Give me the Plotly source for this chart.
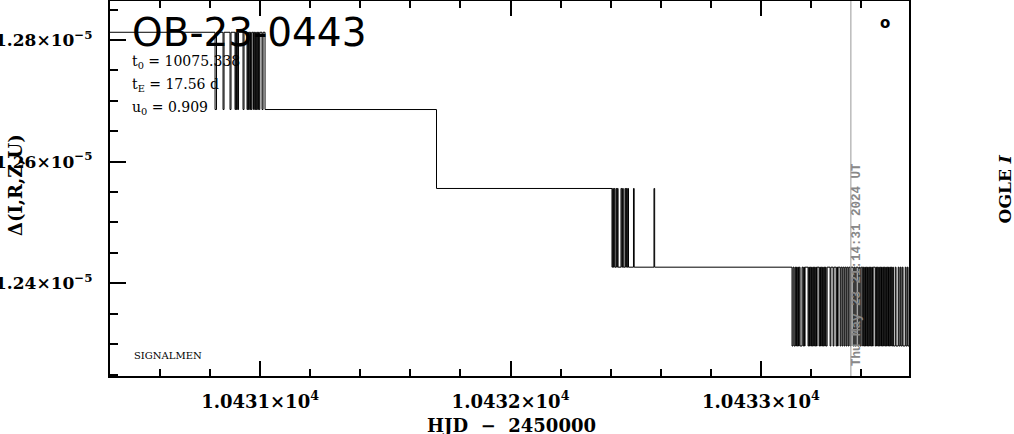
import plotly.graph_objects as go

# ---- data (HJD - 2450000, quantised model values) ----
levels = [1.28127e-5, 1.26857e-5, 1.25559e-5, 1.24265e-5, 1.22969e-5]
t_start = 10430.30
t_end = 10433.70

# times at which the plotted value flips between two adjacent levels
flips_ab = [10430.8204, 10430.8263, 10430.8523, 10430.8563, 10430.8802, 10430.8842,
            10430.9002, 10430.9030, 10430.9058, 10430.9086, 10430.9114, 10430.9142,
            10430.9321, 10430.9361, 10430.9481, 10430.9509, 10430.9537, 10430.9565,
            10430.9593, 10430.9621, 10430.9649, 10430.9681, 10430.9741, 10430.9768,
            10430.9796, 10430.9824, 10430.9852, 10430.9880, 10430.9908, 10430.9936,
            10430.9964, 10430.9992, 10431.0080, 10431.0120, 10431.0200]
flips_bc = [10431.7046]
flips_cd = [10432.4052, 10432.4080, 10432.4108, 10432.4136, 10432.4164, 10432.4212,
            10432.4240, 10432.4267, 10432.4295, 10432.4411, 10432.4443, 10432.4475,
            10432.4503, 10432.4571, 10432.4599, 10432.4627, 10432.4655, 10432.4683,
            10432.4711, 10432.4910, 10432.4938, 10432.5728, 10432.5756]
flips_de = [10433.124, 10433.128, 10433.132, 10433.136, 10433.1388, 10433.1416,
            10433.1444, 10433.1472, 10433.150, 10433.1528, 10433.156, 10433.164,
            10433.168, 10433.1708, 10433.1736, 10433.176, 10433.188, 10433.1908,
            10433.1936, 10433.1964, 10433.1992, 10433.202, 10433.2048, 10433.2076,
            10433.2104, 10433.2132, 10433.216, 10433.2188, 10433.2216, 10433.224,
            10433.232, 10433.2348, 10433.2376, 10433.2404, 10433.2432, 10433.246,
            10433.2488, 10433.2516, 10433.2544, 10433.2572, 10433.260, 10433.264,
            10433.276, 10433.2792, 10433.288, 10433.2912, 10433.300, 10433.3028,
            10433.3056, 10433.308, 10433.316, 10433.3192, 10433.324, 10433.3272,
            10433.332, 10433.3352, 10433.340, 10433.3432, 10433.348, 10433.3512,
            10433.356, 10433.3592, 10433.368, 10433.372, 10433.376, 10433.380,
            10433.388, 10433.392, 10433.396, 10433.400, 10433.406, 10433.4088,
            10433.4116, 10433.4144, 10433.4172, 10433.420, 10433.4228, 10433.4256,
            10433.4284, 10433.4312, 10433.434, 10433.4368, 10433.4396, 10433.4424,
            10433.4452, 10433.448, 10433.456, 10433.4588, 10433.4616, 10433.4644,
            10433.4672, 10433.470, 10433.4728, 10433.4756, 10433.4784, 10433.4812,
            10433.484, 10433.4868, 10433.4896, 10433.4924, 10433.4952, 10433.498,
            10433.5008, 10433.5036, 10433.5064, 10433.5092, 10433.512, 10433.5148,
            10433.5176, 10433.5204, 10433.5232, 10433.526, 10433.5288, 10433.536,
            10433.5392, 10433.548, 10433.5512, 10433.556, 10433.5592, 10433.564,
            10433.5672, 10433.576, 10433.5792, 10433.584, 10433.5872]

x_tickvals = [10431, 10432, 10433]
x_ticktext = ["<b>1.0431×10<sup>4</sup></b>", "<b>1.0432×10<sup>4</sup></b>",
              "<b>1.0433×10<sup>4</sup></b>"]
y_tickvals = [1.24e-5, 1.26e-5, 1.28e-5]
y_ticktext = ["<b>1.24×10<sup>−5</sup></b>", "<b>1.26×10<sup>−5</sup></b>",
              "<b>1.28×10<sup>−5</sup></b>"]
now_hjd = 10433.359
x_range = [10430.401, 10433.591]
y_range = [1.22476e-5, 1.286412e-5]

# ---- build step series ----
xs, ys = [t_start], [levels[0]]
regions = [(0, 1, flips_ab), (1, 2, flips_bc), (2, 3, flips_cd), (3, 4, flips_de)]
for hi, lo, flips in regions:
    cur = hi
    for t in flips:
        cur = lo if cur == hi else hi
        xs.append(t)
        ys.append(levels[cur])
xs.append(t_end)
ys.append(ys[-1])

fig = go.Figure()
fig.add_trace(go.Scatter(x=xs, y=ys, mode="lines", line=dict(color="black", width=1, shape="hv"),
                         showlegend=False, hoverinfo="skip"))

fig.add_shape(type="line", x0=now_hjd, x1=now_hjd, y0=0, y1=1, xref="x", yref="paper",
              line=dict(color="#999999", width=1))

serif = "DejaVu Serif"

fig.update_layout(
    width=1014, height=434,
    margin=dict(l=110, r=105, t=1, b=58, autoexpand=False),
    paper_bgcolor="white", plot_bgcolor="white",
    xaxis=dict(range=x_range, tickvals=x_tickvals, ticktext=x_ticktext, ticks="inside",
               ticklen=15, tickwidth=2, tickcolor="black", showline=True, linewidth=2,
               linecolor="black", mirror="allticks", showgrid=False, zeroline=False,
               tickfont=dict(family=serif, size=18, color="black"), ticklabelstandoff=8,
               automargin=False,
               minor=dict(ticks="inside", ticklen=7, tickwidth=2, tickcolor="black",
                          dtick=0.2, tick0=10431, showgrid=False)),
    yaxis=dict(range=y_range, tickvals=y_tickvals, ticktext=y_ticktext, ticks="inside",
               ticklen=16, tickwidth=2, tickcolor="black", showline=True, linewidth=2,
               linecolor="black", mirror=True, showgrid=False, zeroline=False,
               tickfont=dict(family=serif, size=17, color="black"), ticklabelstandoff=12,
               automargin=False,
               minor=dict(ticks="inside", ticklen=8, tickwidth=2, tickcolor="black",
                          dtick=5e-8, tick0=1.24e-5, showgrid=False)),
)

ann = []
ann.append(dict(text="OB-23-0443", x=0.025, y=0.917, xref="paper", yref="paper",
                xanchor="left", yanchor="middle", showarrow=False,
                font=dict(family="DejaVu Sans", size=39, color="black")))
for txt, yy in [("t<sub>0</sub> = 10075.338", 0.837), ("t<sub>E</sub> = 17.56 d", 0.776),
                ("u<sub>0</sub> = 0.909", 0.715)]:
    ann.append(dict(text=txt, x=0.025, y=yy, xref="paper", yref="paper", xanchor="left",
                    yanchor="middle", showarrow=False,
                    font=dict(family=serif, size=14, color="black")))
ann.append(dict(text="SIGNALMEN", x=0.0275, y=0.056, xref="paper", yref="paper",
                xanchor="left", yanchor="middle", showarrow=False,
                font=dict(family=serif, size=10, color="black")))
ann.append(dict(text="<b>o</b>", x=0.970, y=0.941, xref="paper", yref="paper",
                xanchor="center", yanchor="middle", showarrow=False,
                font=dict(family="DejaVu Sans", size=15, color="black")))
ann.append(dict(text="<b>HJD &nbsp;− &nbsp;2450000</b>", x=0.503, y=-0.131, xref="paper",
                yref="paper", xanchor="center", yanchor="middle", showarrow=False,
                font=dict(family=serif, size=18, color="black")))
ann.append(dict(text="<b>Δ(I,R,Z,U)</b>", x=-0.119, y=0.509, xref="paper", yref="paper",
                xanchor="center", yanchor="middle", showarrow=False, textangle=-90,
                font=dict(family=serif, size=18, color="black")))
ann.append(dict(text="<b>OGLE <i>I</i></b>", x=1.12, y=0.50, xref="paper", yref="paper",
                xanchor="center", yanchor="middle", showarrow=False, textangle=-90,
                font=dict(family=serif, size=17, color="black")))
ann.append(dict(text="<b>Thu May 23 21:14:31 2024 UT</b>", x=0.935, y=0.296, xref="paper",
                yref="paper", xanchor="center", yanchor="middle", showarrow=False,
                textangle=-90, font=dict(family="Liberation Mono", size=12.5, color="#888888")))
fig.update_layout(annotations=ann)

fig.write_html("out.html", config={"displayModeBar": False},
               post_script="document.body.style.margin='0';document.body.style.overflow='hidden';")
